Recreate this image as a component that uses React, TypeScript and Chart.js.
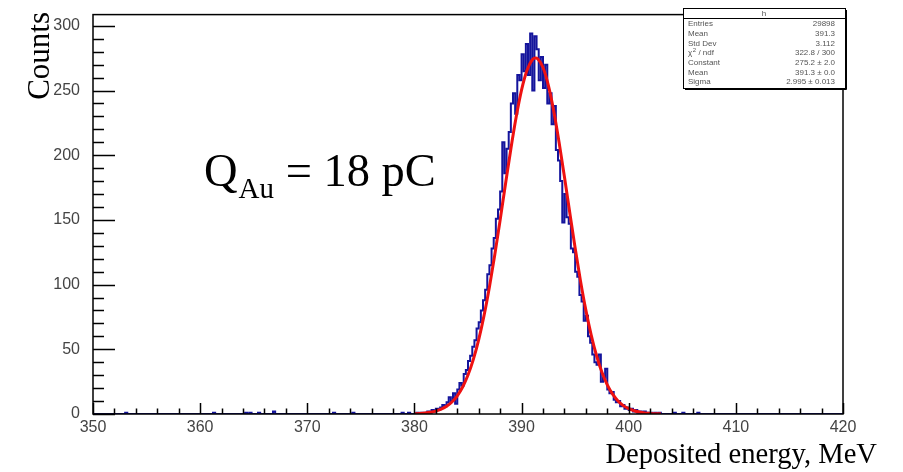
import React, { useEffect, useRef } from 'react';
import { Chart, registerables } from 'chart.js';

Chart.register(...registerables);

// ---- axis ranges / tick labels ----
const X_MIN = 350;
const X_MAX = 420;
const Y_MAX = 308.7;
const xTickValues = [350, 360, 370, 380, 390, 400, 410, 420];
const yTickValues = [0, 50, 100, 150, 200, 250, 300];

// ---- histogram, bins of 0.2 MeV starting at 380.0 ----
const BIN_WIDTH = 0.2;
const PEAK_START = 380.0;
const peakCounts = [
  0, 0, 1, 0, 1, 0, 1, 2, 1, 3,
  2, 4, 3, 5, 7, 6, 9, 13, 10, 16,
  8, 19, 24, 22, 31, 34, 41, 45, 52, 57,
  66, 71, 80, 88, 96, 108, 115, 128, 136, 151,
  158, 172, 210, 186, 205, 218, 240, 248, 232, 262,
  258, 278, 265, 286, 262, 294, 250, 292, 282, 258,
  276, 252, 270, 240, 248, 224, 238, 204, 196, 180,
  148, 170, 152, 147, 128, 125, 110, 106, 92, 87,
  72, 76, 60, 55, 46, 40, 38, 46, 25, 28,
  35, 19, 16, 17, 11, 9, 10, 6, 7, 4,
  5, 3, 4, 2, 3, 1, 2, 1, 2, 0,
  1, 1, 0, 1,
];
// sparse background entries
const noiseCenters = [353.3, 361.5, 364.5, 364.9, 365.7, 367.0, 372.6, 374.5, 379.1, 379.6, 403.1, 404.5, 405.3, 406.6];
const noiseCounts = [1, 1, 1, 1, 1, 2, 1, 1, 1, 1, 1, 1, 1, 1];

// ---- Gaussian fit curve ----
const fitX = [
  380, 380.5, 381, 381.5, 382, 382.5, 383, 383.5, 384, 384.5,
  385, 385.5, 386, 386.5, 387, 387.5, 388, 388.5, 389, 389.5,
  390, 390.5, 391, 391.3, 391.5, 392, 392.5, 393, 393.5, 394, 394.5,
  395, 395.5, 396, 396.5, 397, 397.5, 398, 398.5, 399, 399.5,
  400, 400.5, 401, 401.5, 402, 402.5, 403,
];
const fitY = [
  0.22, 0.41, 0.74, 1.3, 2.2, 3.7, 5.9, 9.3, 14.1, 20.9,
  30.1, 42.2, 57.5, 76.2, 98.2, 123.0, 150.0, 177.8, 204.9, 229.7,
  250.5, 265.5, 273.8, 275.2, 274.6, 267.8, 254.0, 234.2, 210.1, 183.3, 155.5,
  128.3, 102.9, 80.3, 61.0, 45.0, 32.3, 22.5, 15.3, 10.1, 6.5,
  4.1, 2.5, 1.5, 0.83, 0.47, 0.25, 0.13,
];

// ---- stats box ----
const statsTitle = 'h';
const statsNames = ['Entries', 'Mean', 'Std Dev', 'χ2 / ndf', 'Constant', 'Mean', 'Sigma'];
const statsValues = ['29898', '391.3', '3.112', '322.8 / 300', '275.2 ± 2.0', '391.3 ± 0.0', '2.995 ± 0.013'];

// ---- texts ----
const xTitle = 'Deposited energy, MeV';
const yTitle = 'Counts';
const noteMain = 'Q';
const noteSub = 'Au';
const noteRest = '= 18 pC';

const HIST_COLOR = '#14149c';
const FIT_COLOR = '#ee1111';

function buildHistogram() {
  const nBins = Math.round((X_MAX - X_MIN) / BIN_WIDTH);
  const counts: number[] = new Array(nBins).fill(0);
  const start = Math.round((PEAK_START - X_MIN) / BIN_WIDTH);
  peakCounts.forEach((c, i) => {
    counts[start + i] = c;
  });
  noiseCenters.forEach((x, i) => {
    counts[Math.floor((x - X_MIN) / BIN_WIDTH)] += noiseCounts[i];
  });
  const pts = counts.map((c, i) => ({ x: X_MIN + i * BIN_WIDTH, y: c }));
  pts.push({ x: X_MAX, y: counts[nBins - 1] });
  return pts;
}

const SERIF = '"Liberation Serif", "Times New Roman", serif';
const SANS = '"Liberation Sans", Arial, sans-serif';

const rootStylePlugin = {
  id: 'rootStyle',
  afterDraw(chart: any) {
    const { ctx, chartArea: a, scales } = chart;
    const xs = scales.x;
    const ys = scales.y;
    ctx.save();
    // frame
    ctx.strokeStyle = '#000';
    ctx.lineWidth = 1.5;
    ctx.strokeRect(a.left, a.top, a.right - a.left, a.bottom - a.top);
    // ticks
    ctx.beginPath();
    for (let v = 0; v <= 300; v += 10) {
      const y = Math.round(ys.getPixelForValue(v)) + 0.5;
      const len = v % 50 === 0 ? 22 : 11;
      ctx.moveTo(a.left, y);
      ctx.lineTo(a.left + len, y);
    }
    for (let v = X_MIN; v <= X_MAX; v += 2) {
      const x = Math.round(xs.getPixelForValue(v)) + 0.5;
      const len = v % 10 === 0 ? 11 : 5.5;
      ctx.moveTo(x, a.bottom);
      ctx.lineTo(x, a.bottom - len);
    }
    ctx.lineWidth = 1.5;
    ctx.stroke();

    // axis titles
    ctx.fillStyle = '#000';
    ctx.font = `28.6px ${SERIF}`;
    ctx.textBaseline = 'alphabetic';
    ctx.textAlign = 'right';
    ctx.fillText(xTitle, 877, 463);
    ctx.save();
    ctx.translate(49, 12);
    ctx.rotate(-Math.PI / 2);
    ctx.font = `31px ${SERIF}`;
    ctx.textAlign = 'right';
    ctx.fillText(yTitle, 0, 0);
    ctx.restore();

    // annotation Q_Au = 18 pC
    ctx.textAlign = 'left';
    const bigFont = `46.5px ${SERIF}`;
    const subFont = `29px ${SERIF}`;
    let nx = 204;
    const base = 186;
    ctx.font = bigFont;
    ctx.fillText(noteMain, nx, base);
    nx += ctx.measureText(noteMain).width + 1;
    ctx.font = subFont;
    ctx.fillText(noteSub, nx, base + 12);
    nx += ctx.measureText(noteSub).width;
    ctx.font = bigFont;
    nx += ctx.measureText(' ').width;
    ctx.fillText(noteRest, nx, base);

    // stats box
    const bx = 683, by = 8, bw = 162, bh = 80;
    ctx.fillStyle = '#fff';
    ctx.fillRect(bx, by, bw, bh);
    ctx.strokeStyle = '#000';
    ctx.lineWidth = 1;
    ctx.strokeRect(bx + 0.5, by + 0.5, bw, bh);
    ctx.beginPath();
    ctx.moveTo(bx + bw + 1.5, by + 2);
    ctx.lineTo(bx + bw + 1.5, by + bh + 1.5);
    ctx.lineTo(bx + 2, by + bh + 1.5);
    ctx.stroke();
    ctx.beginPath();
    ctx.moveTo(bx, by + 10.5);
    ctx.lineTo(bx + bw, by + 10.5);
    ctx.stroke();
    ctx.fillStyle = '#555';
    ctx.font = `8px ${SANS}`;
    ctx.textBaseline = 'middle';
    ctx.textAlign = 'center';
    ctx.fillText(statsTitle, bx + bw / 2, by + 5.5);
    const rowY = [24, 33.7, 43.3, 53.2, 63, 72.6, 82];
    statsNames.forEach((name, i) => {
      ctx.textAlign = 'left';
      if (name.startsWith('χ2')) {
        ctx.fillText('χ', bx + 5, rowY[i]);
        const w = ctx.measureText('χ').width;
        ctx.font = `6px ${SANS}`;
        ctx.fillText('2', bx + 5 + w + 0.5, rowY[i] - 2.5);
        ctx.font = `8px ${SANS}`;
        ctx.fillText(name.slice(2), bx + 5 + w + 4, rowY[i]);
      } else {
        ctx.fillText(name, bx + 5, rowY[i]);
      }
      ctx.textAlign = 'right';
      ctx.fillText(statsValues[i], bx + bw - 10, rowY[i]);
    });
    ctx.restore();
  },
};

export default function App() {
  const canvasRef = useRef<HTMLCanvasElement | null>(null);

  useEffect(() => {
    const canvas = canvasRef.current;
    if (!canvas) return;
    const chart = new Chart(canvas, {
      type: 'line',
      data: {
        datasets: [
          {
            label: 'h',
            data: buildHistogram(),
            borderColor: HIST_COLOR,
            borderWidth: 2,
            stepped: 'after',
            pointRadius: 0,
            fill: false,
            order: 2,
          },
          {
            label: 'fit',
            data: fitX.map((x, i) => ({ x, y: fitY[i] })),
            borderColor: FIT_COLOR,
            borderWidth: 3,
            pointRadius: 0,
            cubicInterpolationMode: 'monotone',
            fill: false,
            order: 1,
          },
        ],
      },
      options: {
        responsive: false,
        animation: false,
        devicePixelRatio: 1,
        layout: { padding: { left: 0, top: 9, right: 60, bottom: 0 } },
        plugins: {
          legend: { display: false },
          tooltip: { enabled: false },
        },
        scales: {
          x: {
            type: 'linear',
            min: X_MIN,
            max: X_MAX,
            grid: { display: false },
            border: { display: false },
            afterBuildTicks: (scale: any) => {
              scale.ticks = xTickValues.map((v) => ({ value: v }));
            },
            afterFit: (scale: any) => {
              scale.height = 58;
            },
            ticks: {
              color: '#444',
              font: { family: SANS, size: 16 },
              padding: -4,
              maxRotation: 0,
              autoSkip: false,
            },
          },
          y: {
            type: 'linear',
            min: 0,
            max: Y_MAX,
            grid: { display: false },
            border: { display: false },
            afterBuildTicks: (scale: any) => {
              scale.ticks = yTickValues.map((v) => ({ value: v }));
            },
            afterFit: (scale: any) => {
              scale.width = 93;
            },
            ticks: {
              color: '#444',
              font: { family: SANS, size: 16 },
              padding: 5,
            },
          },
        },
      },
      plugins: [rootStylePlugin],
    } as any);
    return () => chart.destroy();
  }, []);

  return (
    <div style={{ position: 'absolute', left: 0, top: 0, width: 903, height: 472, background: '#fff' }}>
      <canvas ref={canvasRef} width={903} height={472} style={{ display: 'block' }} />
    </div>
  );
}
